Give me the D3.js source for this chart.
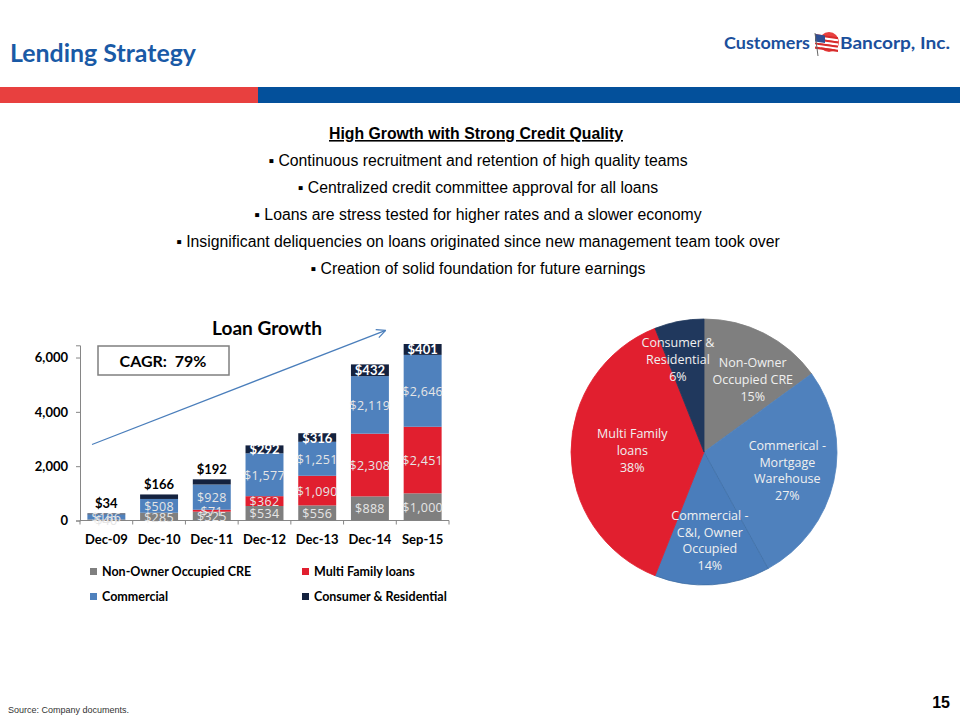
<!DOCTYPE html>
<html>
<head>
<meta charset="utf-8">
<script src="https://cdn.jsdelivr.net/npm/d3@7"></script>
<style>
  body { margin: 0; background: #fff; }
  svg { display: block; }
</style>
</head>
<body>
<svg id="slide" width="960" height="720"></svg>
<script>
// bar chart data (millions of dollars)
const periods = ['Dec-09', 'Dec-10', 'Dec-11', 'Dec-12', 'Dec-13', 'Dec-14', 'Sep-15'];
const nonOwnerCRE = [40, 285, 325, 534, 556, 888, 1000];
const multiFamily = [0, 0, 71, 362, 1090, 2308, 2451];
const commercial = [186, 508, 928, 1577, 1251, 2119, 2646];
const consumer = [34, 166, 192, 292, 316, 432, 401];
const yTicks = [0, 2000, 4000, 6000];

const seriesKeys = ['nonOwnerCRE', 'multiFamily', 'commercial', 'consumer'];
const seriesNames = ['Non-Owner Occupied CRE', 'Multi Family loans', 'Commercial', 'Consumer & Residential'];

// pie data (share of loan book, %)
const pieNames = [['Non-Owner', 'Occupied CRE'], ['Commerical -', 'Mortgage', 'Warehouse'],
  ['Commercial -', 'C&I, Owner', 'Occupied'], ['Multi Family', 'loans'], ['Consumer &', 'Residential']];
const pieShares = [15, 27, 14, 38, 6];

const bullets = [
  'Continuous recruitment and retention of high quality teams',
  'Centralized credit committee approval for all loans',
  'Loans are stress tested for higher rates and a slower economy',
  'Insignificant deliquencies on loans originated since new management team took over',
  'Creation of solid foundation for future earnings'
];

const colors = {
  nonOwnerCRE: '#7f7f7f',
  multiFamily: '#e11f2f',
  commercial: '#4f81bd',
  consumer: '#14223f'
};
const pieColors = ['#7f7f7f', '#4f81bd', '#4a7dbb', '#e11f2f', '#20385d'];

const svg = d3.select('#slide');

// ---- header ----
svg.append('text')
    .attr('x', 10).attr('y', 62)
    .attr('font-family', 'Lato, sans-serif').attr('font-weight', 700)
    .attr('font-size', 25).attr('fill', '#1a5aa6')
    .attr('textLength', 186).attr('lengthAdjust', 'spacingAndGlyphs')
    .text('Lending Strategy');

svg.append('rect').attr('x', 0).attr('y', 87).attr('width', 258).attr('height', 16).attr('fill', '#e8403f');
svg.append('rect').attr('x', 258).attr('y', 87).attr('width', 702).attr('height', 16).attr('fill', '#03509b');

// logo
const logo = svg.append('g').attr('font-family', 'Lato, sans-serif').attr('font-weight', 700)
    .attr('font-size', 17).attr('fill', '#1b4f9c');
logo.append('text').attr('x', 724).attr('y', 49)
    .attr('textLength', 86).attr('lengthAdjust', 'spacingAndGlyphs').text('Customers');
logo.append('circle').attr('cx', 829).attr('cy', 42).attr('r', 10).attr('fill', '#e8403f');
const flag = logo.append('g').attr('transform', 'translate(815,34) skewY(8)');
d3.range(7).forEach(i => {
    flag.append('rect').attr('x', 0).attr('y', i * 2.1).attr('width', 23).attr('height', 2.1)
        .attr('fill', i % 2 ? '#ffffff' : '#d62b2b');
});
flag.append('rect').attr('x', 0).attr('y', 0).attr('width', 10).attr('height', 7.5).attr('fill', '#2d4f93');
logo.append('line').attr('x1', 815).attr('y1', 33).attr('x2', 818).attr('y2', 56)
    .attr('stroke', '#666').attr('stroke-width', 1);
logo.append('text').attr('x', 840).attr('y', 49)
    .attr('textLength', 110).attr('lengthAdjust', 'spacingAndGlyphs').text('Bancorp, Inc.');

// ---- bullets ----
const textBlock = svg.append('g').attr('font-family', '"Liberation Sans", Arial, sans-serif')
    .attr('font-size', 15.8).attr('fill', '#000').attr('text-anchor', 'middle');
textBlock.append('text').attr('x', 476).attr('y', 139)
    .attr('font-weight', 700).attr('text-decoration', 'underline')
    .text('High Growth with Strong Credit Quality');
bullets.forEach((b, i) => {
    textBlock.append('text').attr('x', 478).attr('y', 166 + i * 27).text('\u25AA ' + b);
});

// ---- bar chart ----
const x = d3.scaleBand().domain(periods).range([80, 449]).paddingInner(0.28).paddingOuter(0.14);
const y = d3.scaleLinear().domain([0, 6450]).range([520.5, 345.3]);

const rows = periods.map((p, i) => ({
    period: p,
    nonOwnerCRE: nonOwnerCRE[i],
    multiFamily: multiFamily[i],
    commercial: commercial[i],
    consumer: consumer[i]
}));
const stacked = d3.stack().keys(seriesKeys)(rows);

const chart = svg.append('g');

chart.append('text').attr('x', 267).attr('y', 335).attr('text-anchor', 'middle')
    .attr('font-family', 'Lato, sans-serif').attr('font-weight', 700).attr('font-size', 19)
    .attr('textLength', 110).attr('lengthAdjust', 'spacingAndGlyphs')
    .text('Loan Growth');

// y axis
const yAxis = chart.append('g').attr('transform', 'translate(80,0)')
    .call(d3.axisLeft(y).tickValues(yTicks).tickSize(4).tickFormat(d3.format(',')));
yAxis.select('.domain').attr('stroke', '#868686');
yAxis.selectAll('.tick line').attr('stroke', '#868686');
yAxis.selectAll('.tick text').attr('font-family', 'Lato, sans-serif').attr('font-weight', 700)
    .attr('font-size', 13).attr('fill', '#000').attr('x', -12);

// x axis with ticks between categories
const xAxisG = chart.append('g').attr('transform', `translate(0,${y(0)})`);
xAxisG.append('line').attr('x1', 80).attr('x2', 449).attr('stroke', '#868686');
xAxisG.selectAll('line.tk').data(d3.range(periods.length + 1)).join('line')
    .attr('class', 'tk')
    .attr('x1', i => 80 + i * x.step()).attr('x2', i => 80 + i * x.step())
    .attr('y1', 0).attr('y2', 4).attr('stroke', '#868686');
xAxisG.selectAll('text').data(periods).join('text')
    .attr('x', d => x(d) + x.bandwidth() / 2).attr('y', 23)
    .attr('text-anchor', 'middle')
    .attr('font-family', 'Lato, sans-serif').attr('font-weight', 700).attr('font-size', 13)
    .text(d => d);

// stacked bars
chart.selectAll('g.series').data(stacked).join('g')
    .attr('class', 'series')
    .attr('fill', s => colors[s.key])
    .selectAll('rect').data(s => s).join('rect')
    .attr('x', d => x(d.data.period))
    .attr('width', x.bandwidth())
    .attr('y', d => y(d[1]))
    .attr('height', d => y(d[0]) - y(d[1]));

const fmt = v => '$' + d3.format(',')(v);

// segment labels
stacked.forEach(s => {
    s.forEach(d => {
        const v = d[1] - d[0];
        if (v <= 0) return;
        const cx = x(d.data.period) + x.bandwidth() / 2;
        if (s.key === 'consumer') {
            const big = d[0] > 2000;
            chart.append('text')
                .attr('x', cx)
                .attr('y', big ? (y(d[0]) + y(d[1])) / 2 + 5 : y(d[1]) - 5)
                .attr('text-anchor', 'middle')
                .attr('font-family', 'Lato, sans-serif').attr('font-weight', 700).attr('font-size', 13)
                .attr('fill', big ? '#ffffff' : '#000000')
                .text(fmt(v));
        } else {
            chart.append('text')
                .attr('x', cx)
                .attr('y', (y(d[0]) + y(d[1])) / 2 + 5)
                .attr('text-anchor', 'middle')
                .attr('font-family', '"Open Sans", sans-serif').attr('font-size', 12.5)
                .attr('letter-spacing', 0.3)
                .attr('fill', '#e6e6e6')
                .text(fmt(v));
        }
    });
});

// CAGR box
chart.append('rect').attr('x', 98).attr('y', 346).attr('width', 131).attr('height', 29)
    .attr('fill', '#fff').attr('stroke', '#7f7f7f').attr('stroke-width', 1.5);
chart.append('text').attr('x', 163).attr('y', 367).attr('text-anchor', 'middle')
    .attr('font-family', 'Lato, sans-serif').attr('font-weight', 700).attr('font-size', 16)
    .attr('xml:space', 'preserve')
    .text('CAGR:  79%');

// growth arrow
const ax1 = x.range()[0] + 12, ay1 = y(2800);
const ax2 = x('Sep-15') - 18, ay2 = y(7000);
chart.append('line').attr('x1', ax1).attr('y1', ay1).attr('x2', ax2).attr('y2', ay2)
    .attr('stroke', '#4a7ebb').attr('stroke-width', 1.2);
const ang = Math.atan2(ay2 - ay1, ax2 - ax1);
[-0.45, 0.45].forEach(off => {
    chart.append('line').attr('x1', ax2).attr('y1', ay2)
        .attr('x2', ax2 - 10 * Math.cos(ang + off)).attr('y2', ay2 - 10 * Math.sin(ang + off))
        .attr('stroke', '#4a7ebb').attr('stroke-width', 1.2);
});

// legend
const legend = chart.append('g').attr('font-family', 'Lato, sans-serif').attr('font-weight', 700)
    .attr('font-size', 12.5);
seriesKeys.forEach((k, i) => {
    const lx = i % 2 === 0 ? 90 : 302;
    const ly = i < 2 ? 568 : 593;
    legend.append('rect').attr('x', lx).attr('y', ly).attr('width', 7).attr('height', 7)
        .attr('fill', colors[k]);
    legend.append('text').attr('x', lx + 12).attr('y', ly + 7.5).text(seriesNames[i]);
});

// ---- pie ----
const pieData = d3.pie().sort(null).value(d => d)(pieShares);
const radius = 133;
const arc = d3.arc().innerRadius(0).outerRadius(radius);
const pieG = svg.append('g').attr('transform', 'translate(704,452)');
pieG.selectAll('path').data(pieData).join('path')
    .attr('d', arc)
    .attr('fill', (d, i) => pieColors[i])
    .attr('stroke', (d, i) => i === 2 ? '#3f6ea5' : pieColors[i])
    .attr('stroke-width', 0.8);

// label placement: radius fraction and angle nudge (radians) per slice
const labelR = [0.63, 0.65, 0.70, 0.54, 0.69];
const labelTurn = [0.15, 0.05, 0, -0.04, -0.1];
pieData.forEach((d, i) => {
    const a = (d.startAngle + d.endAngle) / 2 + labelTurn[i];
    const r = radius * labelR[i];
    const lx = r * Math.sin(a), ly = -r * Math.cos(a);
    const lines = pieNames[i].concat([pieShares[i] + '%']);
    const t = pieG.append('text').attr('text-anchor', 'middle')
        .attr('font-family', '"Open Sans", sans-serif').attr('font-size', 12.5)
        .attr('fill', '#f0f0f0');
    lines.forEach((ln, j) => {
        t.append('tspan').attr('x', lx)
            .attr('y', ly + (j - (lines.length - 1) / 2) * 16.7)
            .text(ln);
    });
});

// ---- footer ----
svg.append('text').attr('x', 8).attr('y', 713)
    .attr('font-family', '"Liberation Sans", Arial, sans-serif').attr('font-size', 9).attr('fill', '#333')
    .text('Source: Company documents.');
svg.append('text').attr('x', 950).attr('y', 708).attr('text-anchor', 'end')
    .attr('font-family', '"Liberation Sans", Arial, sans-serif').attr('font-weight', 700).attr('font-size', 16)
    .text('15');
</script>
</body>
</html>
